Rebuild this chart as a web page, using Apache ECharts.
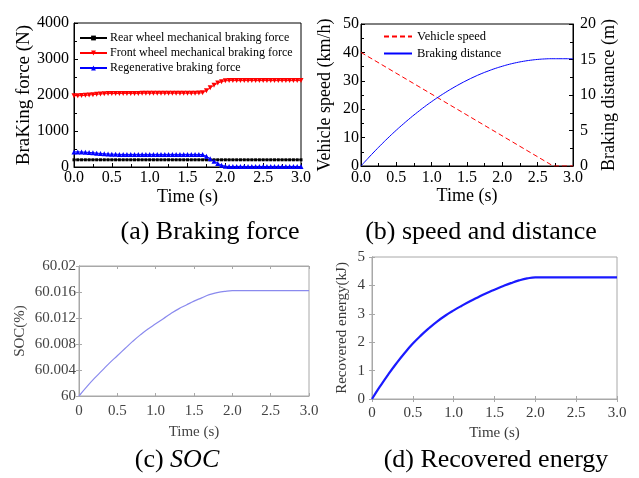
<!DOCTYPE html>
<html>
<head>
<meta charset="utf-8">
<title>Braking simulation</title>
<script src="https://cdn.jsdelivr.net/npm/echarts@6/dist/echarts.min.js"></script>
<style>
  html, body { margin: 0; padding: 0; background: #fff; }
  #main { width: 639px; height: 478px; }
</style>
</head>
<body>
<div id="main"></div>
<script>
// ---- (a) braking force, sampled every 0.05 s ----
var tA = [0, 0.05, 0.1, 0.15, 0.2, 0.25, 0.3, 0.35, 0.4, 0.45,
  0.5, 0.55, 0.6, 0.65, 0.7, 0.75, 0.8, 0.85, 0.9, 0.95,
  1.0, 1.05, 1.1, 1.15, 1.2, 1.25, 1.3, 1.35, 1.4, 1.45,
  1.5, 1.55, 1.6, 1.65, 1.7, 1.75, 1.8, 1.85, 1.9, 1.95,
  2.0, 2.05, 2.1, 2.15, 2.2, 2.25, 2.3, 2.35, 2.4, 2.45,
  2.5, 2.55, 2.6, 2.65, 2.7, 2.75, 2.8, 2.85, 2.9, 2.95, 3.0];
var rearForce = [200, 200, 200, 200, 200, 200, 200, 200, 200, 200,
  200, 200, 200, 200, 200, 200, 200, 200, 200, 200,
  200, 200, 200, 200, 200, 200, 200, 200, 200, 200,
  200, 200, 200, 200, 200, 200, 200, 200, 200, 200,
  200, 200, 200, 200, 200, 200, 200, 200, 200, 200,
  200, 200, 200, 200, 200, 200, 200, 200, 200, 200, 200];
var frontForce = [1980, 1980, 1985, 1990, 2000, 2010, 2020, 2030, 2035, 2040,
  2040, 2040, 2045, 2045, 2045, 2045, 2045, 2045, 2050, 2050,
  2050, 2050, 2050, 2050, 2050, 2050, 2050, 2050, 2050, 2050,
  2050, 2050, 2050, 2055, 2060, 2120, 2200, 2270, 2330, 2370,
  2395, 2400, 2400, 2400, 2400, 2400, 2400, 2400, 2400, 2400,
  2400, 2400, 2400, 2400, 2400, 2400, 2400, 2400, 2400, 2400, 2400];
var regenForce = [420, 420, 415, 410, 405, 395, 385, 375, 365, 360,
  355, 355, 350, 350, 350, 350, 350, 350, 350, 350,
  350, 350, 350, 350, 350, 350, 350, 350, 350, 350,
  350, 350, 350, 350, 345, 300, 230, 160, 100, 50,
  20, 15, 15, 15, 15, 15, 15, 15, 15, 15,
  15, 15, 15, 15, 15, 15, 15, 15, 15, 15, 15];

// ---- (b) speed and distance ----
var speedT = [0, 2.72, 3.0];
var speedV = [40, 0, 0];
var tB = [0, 0.1, 0.2, 0.3, 0.4, 0.5, 0.6, 0.7, 0.8, 0.9, 1.0,
  1.1, 1.2, 1.3, 1.4, 1.5, 1.6, 1.7, 1.8, 1.9, 2.0,
  2.1, 2.2, 2.3, 2.4, 2.5, 2.6, 2.7, 2.8, 2.9, 3.0];
var distance = [0, 1.09, 2.14, 3.15, 4.12, 5.05, 5.93, 6.78, 7.58, 8.35, 9.07,
  9.75, 10.39, 10.99, 11.55, 12.07, 12.55, 12.99, 13.38, 13.74, 14.05,
  14.33, 14.56, 14.75, 14.9, 15.01, 15.08, 15.11, 15.11, 15.11, 15.11];

// ---- (c) SOC and (d) recovered energy ----
var tC = tB;
var soc = [60, 60.0014, 60.0027, 60.0039, 60.0051, 60.0062, 60.0073, 60.0084, 60.0094, 60.0103, 60.0111,
  60.0119, 60.0127, 60.0134, 60.014, 60.0146, 60.0151, 60.0156, 60.0159, 60.0161, 60.0162,
  60.0162, 60.0162, 60.0162, 60.0162, 60.0162, 60.0162, 60.0162, 60.0162, 60.0162, 60.0162];
var energy = [0, 0.45, 0.87, 1.26, 1.62, 1.95, 2.24, 2.5, 2.735, 2.94, 3.12,
  3.285, 3.44, 3.585, 3.725, 3.85, 3.97, 4.08, 4.175, 4.245, 4.28,
  4.28, 4.28, 4.28, 4.28, 4.28, 4.28, 4.28, 4.28, 4.28, 4.28];

function pairs(xs, ys) {
  var out = [];
  for (var i = 0; i < xs.length; i++) out.push([xs[i], ys[i]]);
  return out;
}

var SERIF = "'Liberation Serif', 'Times New Roman', serif";

// black box style for (a) and (b)
function blackAxis(extra) {
  var ax = {
    type: 'value',
    axisLine: { show: true, lineStyle: { color: '#000', width: 1 } },
    axisTick: { show: true, inside: true, length: 4, lineStyle: { color: '#000' } },
    minorTick: { show: true, splitNumber: 2, length: 3, lineStyle: { color: '#000' } },
    splitLine: { show: false },
    axisLabel: { color: '#000', fontSize: 16, fontFamily: SERIF, margin: 3 },
    nameTextStyle: { color: '#000', fontSize: 18, fontFamily: SERIF }
  };
  for (var k in extra) ax[k] = extra[k];
  return ax;
}

// gray matlab style for (c) and (d)
function grayAxis(extra, labelColor) {
  var ax = {
    type: 'value',
    axisLine: { show: true, lineStyle: { color: '#a8a8a8', width: 1 } },
    axisTick: { show: true, inside: true, length: 3, lineStyle: { color: '#a8a8a8' } },
    splitLine: { show: false },
    axisLabel: { color: labelColor, fontSize: 15, fontFamily: SERIF, margin: 6 },
    nameTextStyle: { color: labelColor, fontSize: 15, fontFamily: SERIF }
  };
  for (var k in extra) ax[k] = extra[k];
  return ax;
}

function fmt1(v) { return v.toFixed(1); }
function fmtM(v) { return v === 0 ? '0' : v.toFixed(1); }
function plain(v) { return String(v); }

var chart = echarts.init(document.getElementById('main'));

var option = {
  animation: false,
  backgroundColor: '#fff',
  grid: [
    { left: 74, top: 23, width: 227, height: 144, show: true, borderColor: '#000', borderWidth: 1 },
    { left: 361, top: 24, width: 212, height: 142, show: true, borderColor: '#000', borderWidth: 1 },
    { left: 79, top: 266, width: 230, height: 130, show: true, borderColor: '#a8a8a8', borderWidth: 1 },
    { left: 372, top: 257, width: 245, height: 142, show: true, borderColor: '#a8a8a8', borderWidth: 1 }
  ],
  xAxis: [
    blackAxis({ gridIndex: 0, min: 0, max: 3, interval: 0.5, name: 'Time (s)', nameLocation: 'middle', nameGap: 21,
      axisLabel: { color: '#000', fontSize: 16, fontFamily: SERIF, margin: 3, formatter: fmt1 } }),
    blackAxis({ gridIndex: 1, min: 0, max: 3, interval: 0.5, name: 'Time (s)', nameLocation: 'middle', nameGap: 21,
      axisLabel: { color: '#000', fontSize: 16, fontFamily: SERIF, margin: 4, formatter: fmt1 } }),
    grayAxis({ gridIndex: 2, min: 0, max: 3, interval: 0.5, name: 'Time (s)', nameLocation: 'middle', nameGap: 29,
      axisLabel: { color: '#444', fontSize: 15, fontFamily: SERIF, margin: 8, formatter: fmtM } }, '#444'),
    grayAxis({ gridIndex: 2, position: 'top', min: 0, max: 3, interval: 0.5, axisLabel: { show: false } }, '#444'),
    grayAxis({ gridIndex: 3, min: 0, max: 3, interval: 0.5, name: 'Time (s)', nameLocation: 'middle', nameGap: 27,
      axisLabel: { color: '#3a3a3a', fontSize: 15, fontFamily: SERIF, margin: 7, formatter: fmtM } }, '#3a3a3a'),
    grayAxis({ gridIndex: 3, position: 'top', min: 0, max: 3, interval: 0.5, axisLabel: { show: false } }, '#3a3a3a')
  ],
  yAxis: [
    blackAxis({ gridIndex: 0, min: 0, max: 4000, interval: 1000, name: 'BraKing force (N)', nameLocation: 'middle', nameGap: 33,
      axisLabel: { color: '#000', fontSize: 16, fontFamily: SERIF, margin: 5, formatter: plain },
      nameTextStyle: { color: '#000', fontSize: 19, fontFamily: SERIF } }),
    blackAxis({ gridIndex: 1, min: 0, max: 50, interval: 10, name: 'Vehicle speed (km/h)', nameLocation: 'middle', nameGap: 27,
      axisLabel: { color: '#000', fontSize: 16, fontFamily: SERIF, margin: 2 } }),
    blackAxis({ gridIndex: 1, position: 'right', min: 0, max: 20, interval: 5, name: 'Braking distance (m)', nameLocation: 'middle', nameGap: 27,
      axisLabel: { color: '#000', fontSize: 16, fontFamily: SERIF, margin: 7 } }),
    grayAxis({ gridIndex: 2, min: 60, max: 60.02, interval: 0.004, name: 'SOC(%)', nameLocation: 'middle', nameGap: 51,
      axisLabel: { color: '#444', fontSize: 15, fontFamily: SERIF, margin: 3,
        formatter: function (v) { return String(parseFloat(v.toFixed(3))); } } }, '#444'),
    grayAxis({ gridIndex: 2, position: 'right', min: 60, max: 60.02, interval: 0.004, axisLabel: { show: false } }, '#444'),
    grayAxis({ gridIndex: 3, min: 0, max: 5, interval: 1, name: 'Recovered energy(kJ)', nameLocation: 'middle', nameGap: 22,
      axisLabel: { color: '#3a3a3a', fontSize: 15, fontFamily: SERIF, margin: 7 } }, '#3a3a3a'),
    grayAxis({ gridIndex: 3, position: 'right', min: 0, max: 5, interval: 1, axisLabel: { show: false } }, '#3a3a3a')
  ],
  legend: [
    {
      data: ['Rear wheel mechanical braking force', 'Front wheel mechanical braking force', 'Regenerative braking force'],
      orient: 'vertical', left: 74, top: 27, itemWidth: 27, itemHeight: 6, itemGap: 3,
      textStyle: { color: '#000', fontSize: 12, fontFamily: SERIF, padding: [0, 0, 0, -2] }
    },
    {
      data: [
        { name: 'Vehicle speed', itemStyle: { opacity: 0 } },
        { name: 'Braking distance', itemStyle: { opacity: 0 } }
      ],
      orient: 'vertical', left: 378, top: 25, itemWidth: 28, itemHeight: 6, itemGap: 4,
      textStyle: { color: '#000', fontSize: 12.5, fontFamily: SERIF }
    }
  ],
  series: [
    {
      name: 'Rear wheel mechanical braking force', type: 'line', xAxisIndex: 0, yAxisIndex: 0,
      data: pairs(tA, rearForce), symbol: 'rect', symbolSize: 3,
      itemStyle: { color: '#000' }, lineStyle: { color: '#000', width: 1 }
    },
    {
      name: 'Front wheel mechanical braking force', type: 'line', xAxisIndex: 0, yAxisIndex: 0,
      data: pairs(tA, frontForce), symbol: 'triangle', symbolRotate: 180, symbolSize: 5,
      itemStyle: { color: '#ff0000' }, lineStyle: { color: '#ff0000', width: 1 }
    },
    {
      name: 'Regenerative braking force', type: 'line', xAxisIndex: 0, yAxisIndex: 0,
      data: pairs(tA, regenForce), symbol: 'triangle', symbolSize: 5,
      itemStyle: { color: '#0000ff' }, lineStyle: { color: '#0000ff', width: 1 }
    },
    {
      name: 'Vehicle speed', type: 'line', xAxisIndex: 1, yAxisIndex: 1,
      data: pairs(speedT, speedV), symbol: 'none',
      itemStyle: { color: '#ff0000' }, lineStyle: { color: '#ff0000', width: 1, type: [5, 3] }
    },
    {
      name: 'Braking distance', type: 'line', xAxisIndex: 1, yAxisIndex: 2, smooth: true,
      data: pairs(tB, distance), symbol: 'none',
      itemStyle: { color: '#0000ff' }, lineStyle: { color: '#0000ff', width: 1 }
    },
    {
      name: 'SOC', type: 'line', xAxisIndex: 2, yAxisIndex: 3, smooth: true,
      data: pairs(tC, soc), symbol: 'none',
      lineStyle: { color: '#8a8aee', width: 1.2 }
    },
    {
      name: 'Recovered energy', type: 'line', xAxisIndex: 4, yAxisIndex: 5, smooth: true,
      data: pairs(tC, energy), symbol: 'none',
      lineStyle: { color: '#1a1aff', width: 2.2 }
    }
  ],
  // sub-figure captions
  graphic: [
    { type: 'text', x: 210, y: 232, style: { text: '(a) Braking force', font: '26px ' + SERIF, fill: '#000', textAlign: 'center', textVerticalAlign: 'middle' } },
    { type: 'text', x: 481, y: 232, style: { text: '(b) speed and distance', font: '26px ' + SERIF, fill: '#000', textAlign: 'center', textVerticalAlign: 'middle' } },
    { type: 'text', x: 177, y: 460, style: { text: '(c) {i|SOC}', font: '26px ' + SERIF, fill: '#000', textAlign: 'center', textVerticalAlign: 'middle',
      rich: { i: { fontStyle: 'italic', fontSize: 26, fontFamily: SERIF } } } },
    { type: 'text', x: 496, y: 460, style: { text: '(d) Recovered energy', font: '26px ' + SERIF, fill: '#000', textAlign: 'center', textVerticalAlign: 'middle' } }
  ]
};

chart.setOption(option);
</script>
</body>
</html>
